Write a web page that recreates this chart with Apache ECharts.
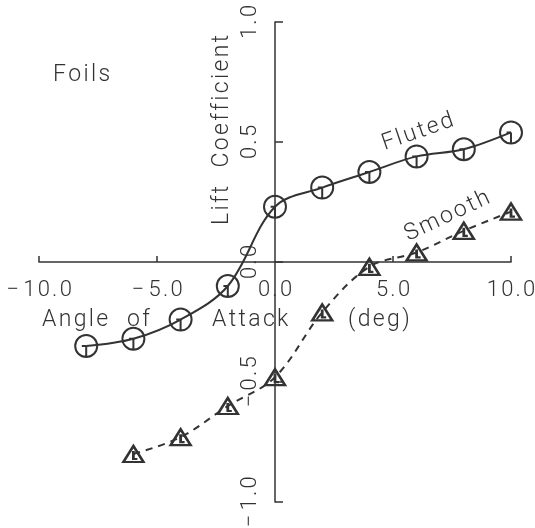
<!DOCTYPE html>
<html>
  <head>
    <meta charset="utf-8" />
    <title>Foils</title>
  </head>
  <body style="height: 100%; margin: 0; background: #fff">
    <div id="container" style="width: 535px; height: 528px"></div>

    <script src="https://fastly.jsdelivr.net/npm/echarts@6/dist/echarts.min.js"></script>

    <script type="text/javascript">
      // angle of attack (deg) for each measured point
      var angles = [-8, -6, -4, -2, 0, 2, 4, 6, 8, 10];
      var flutedLift = [-0.35, -0.32, -0.24, -0.10, 0.23, 0.31, 0.375, 0.44, 0.47, 0.54];
      var smoothAngles = [-6, -4, -2, 0, 2, 4, 6, 8, 10];
      var smoothLift = [-0.80, -0.73, -0.60, -0.48, -0.21, -0.02, 0.04, 0.13, 0.21];
      var xTicks = [-10, -5, 5, 10];

      var ink = "#333";
      var font = "Roboto, 'DejaVu Sans', sans-serif";
      var hs = "\u200a"; // hair space, to open up the lettering a bit

      function spaced(s) {
        return s.split("").join(hs);
      }

      function fmt(v) {
        var s = spaced(Math.abs(v).toFixed(1));
        return v < 0 ? "\u2212" + hs + hs + s : s;
      }

      function pairs(xs, ys) {
        return xs.map(function (x, i) {
          return [x, ys[i]];
        });
      }

      function label(text, extra) {
        var o = {
          type: "text",
          style: {
            text: spaced(text),
            fontSize: 23,
            fontFamily: font,
            fontWeight: 300,
            fill: ink,
            verticalAlign: "middle"
          }
        };
        for (var k in extra) o[k] = extra[k];
        if (extra.align) o.style.align = extra.align;
        return o;
      }

      var circleSym =
        "path://M10,0 A10,10 0 1,1 10,20 A10,10 0 1,1 10,0 Z M10,10 L10,20 M10,10 L6,10";
      var triSym = "path://M0,16 L10,0 L20,16 Z M10,5 L10,13 L14,13";

      var dom = document.getElementById("container");
      var myChart = echarts.init(dom, null, { renderer: "canvas" });

      var option = {
        backgroundColor: "#fff",
        animation: false,
        grid: { left: 39, right: 24, top: 22, bottom: 26, outerBoundsMode: "none" },
        xAxis: {
          type: "value",
          min: -10,
          max: 10,
          interval: 5,
          position: "bottom",
          offset: -240,
          axisLine: { onZero: false, lineStyle: { color: ink, width: 1.5 } },
          axisTick: {
            inside: true,
            length: 6,
            lineStyle: { color: ink, width: 1.5 },
            customValues: xTicks
          },
          axisLabel: {
            margin: 17,
            fontFamily: font,
            fontWeight: 300,
            fontSize: 22,
            color: ink,
            showMinLabel: true,
            showMaxLabel: true,
            formatter: fmt
          },
          splitLine: { show: false }
        },
        yAxis: {
          type: "value",
          min: -1,
          max: 1,
          interval: 0.5,
          position: "left",
          offset: -236,
          axisLine: { show: true, onZero: false, lineStyle: { color: ink, width: 1.5 } },
          axisTick: {
            show: true,
            inside: true,
            length: 8,
            lineStyle: { color: ink, width: 1.5 }
          },
          axisLabel: {
            rotate: 90,
            margin: 14,
            fontFamily: font,
            fontWeight: 300,
            fontSize: 22,
            color: ink,
            showMinLabel: true,
            showMaxLabel: true,
            formatter: fmt
          },
          splitLine: { show: false }
        },
        graphic: [
          label("Foils", { x: 53, y: 75 }),
          label("Angle", { x: 42, y: 320 }),
          label("of", { x: 127, y: 320 }),
          label("Attack", { x: 212, y: 320 }),
          label("(deg)", { x: 348, y: 320 }),
          label("Lift  Coefficient", {
            x: 222,
            y: 130,
            rotation: Math.PI / 2,
            align: "center"
          })
        ],
        series: [
          {
            name: "Fluted",
            type: "line",
            data: pairs(angles, flutedLift),
            smooth: 0.35,
            symbol: circleSym,
            symbolSize: [22, 22],
            itemStyle: { color: "rgba(0,0,0,0)", borderColor: ink, borderWidth: 2 },
            lineStyle: { color: ink, width: 2 },
            z: 3
          },
          {
            name: "Smooth",
            type: "line",
            data: pairs(smoothAngles, smoothLift),
            smooth: 0.35,
            symbol: triSym,
            symbolSize: [20, 16],
            itemStyle: { color: "rgba(0,0,0,0)", borderColor: ink, borderWidth: 2.5 },
            lineStyle: { color: ink, width: 2, type: [7, 6] },
            z: 3
          }
        ]
      };

      myChart.setOption(option);

      // curve labels placed in data space next to each series
      var notes = [
        { text: "Fluted", at: [6.05, 0.54], angle: 19 },
        { text: "Smooth", at: [7.3, 0.19], angle: 25 }
      ];
      var extra = notes.map(function (n) {
        var p = myChart.convertToPixel({ gridIndex: 0 }, n.at);
        return label(n.text, {
          x: p[0],
          y: p[1],
          rotation: (n.angle * Math.PI) / 180,
          align: "center"
        });
      });
      myChart.setOption({ graphic: option.graphic.concat(extra) });

      window.addEventListener("resize", myChart.resize);
    </script>
  </body>
</html>
